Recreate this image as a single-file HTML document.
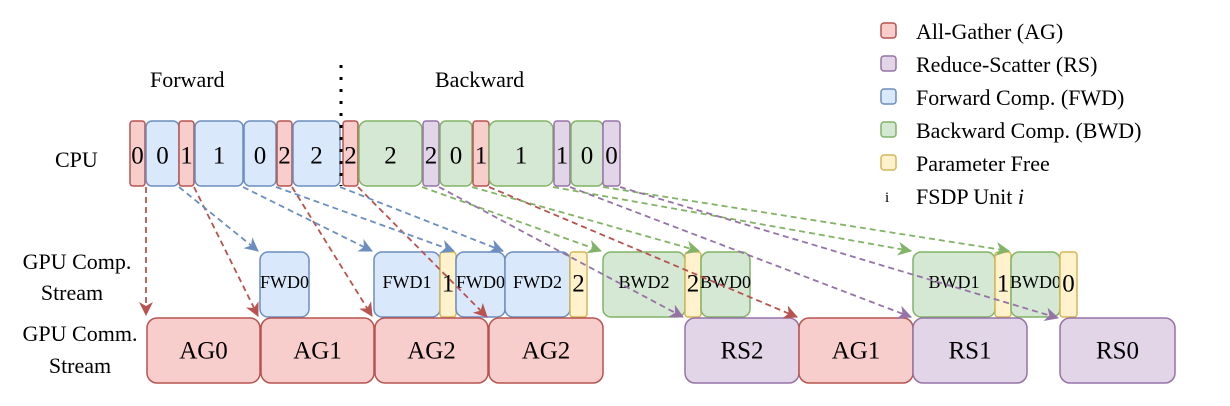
<!DOCTYPE html>
<html><head><meta charset="utf-8"><style>
html,body{margin:0;padding:0;background:#fff;}
svg{display:block;}
text{font-family:"Liberation Serif","Times New Roman",Times,serif;}
</style></head><body>
<svg width="1230" height="406" viewBox="0 0 1230 406" xmlns="http://www.w3.org/2000/svg" font-family="Liberation Serif, serif">
<defs>
<marker id="mr" markerWidth="14" markerHeight="14" refX="13" refY="7" orient="auto" markerUnits="userSpaceOnUse" viewBox="0 0 14 14"><path d="M0,0 L14,7 L0,14 L4,7 Z" fill="#b85450"/></marker>
<marker id="mb" markerWidth="14" markerHeight="14" refX="13" refY="7" orient="auto" markerUnits="userSpaceOnUse" viewBox="0 0 14 14"><path d="M0,0 L14,7 L0,14 L4,7 Z" fill="#6c8ebf"/></marker>
<marker id="mg" markerWidth="14" markerHeight="14" refX="13" refY="7" orient="auto" markerUnits="userSpaceOnUse" viewBox="0 0 14 14"><path d="M0,0 L14,7 L0,14 L4,7 Z" fill="#82b366"/></marker>
<marker id="mp" markerWidth="14" markerHeight="14" refX="13" refY="7" orient="auto" markerUnits="userSpaceOnUse" viewBox="0 0 14 14"><path d="M0,0 L14,7 L0,14 L4,7 Z" fill="#9673a6"/></marker>
</defs>
<style>
.r{fill:#f8cecc;stroke:#b85450;stroke-width:1.5}
.b{fill:#dae8fc;stroke:#6c8ebf;stroke-width:1.5}
.g{fill:#d5e8d4;stroke:#82b366;stroke-width:1.5}
.p{fill:#e1d5e7;stroke:#9673a6;stroke-width:1.5}
.y{fill:#fff2cc;stroke:#d6b656;stroke-width:1.5}
.t{font-family:"Liberation Serif",serif;font-size:25px;text-anchor:middle;dominant-baseline:central}
.s{font-family:"Liberation Serif",serif;font-size:18px;text-anchor:middle;dominant-baseline:central}
.lab{font-family:"Liberation Serif",serif;font-size:22px}
.ar{fill:none;stroke-width:1.8;stroke-dasharray:6,4}
</style>

<rect class="r" x="130" y="121" width="15" height="65" rx="3"/><text class="t" x="137.5" y="156">0</text>
<rect class="b" x="146" y="121" width="33" height="65" rx="6"/><text class="t" x="162.5" y="156">0</text>
<rect class="r" x="179" y="121" width="15" height="65" rx="3"/><text class="t" x="186.5" y="156">1</text>
<rect class="b" x="195" y="121" width="48" height="65" rx="6"/><text class="t" x="219" y="156">1</text>
<rect class="b" x="244" y="121" width="32" height="65" rx="6"/><text class="t" x="260" y="156">0</text>
<rect class="r" x="277" y="121" width="15" height="65" rx="3"/><text class="t" x="284.5" y="156">2</text>
<rect class="b" x="293" y="121" width="47" height="65" rx="6"/><text class="t" x="316.5" y="156">2</text>
<rect class="r" x="343" y="121" width="15" height="65" rx="3"/><text class="t" x="350.5" y="156">2</text>
<rect class="g" x="359" y="121" width="63" height="65" rx="8"/><text class="t" x="390.5" y="156">2</text>
<rect class="p" x="423" y="121" width="16" height="65" rx="3"/><text class="t" x="431" y="156">2</text>
<rect class="g" x="440" y="121" width="32" height="65" rx="6"/><text class="t" x="456" y="156">0</text>
<rect class="r" x="473" y="121" width="16" height="65" rx="3"/><text class="t" x="481" y="156">1</text>
<rect class="g" x="489" y="121" width="64" height="65" rx="8"/><text class="t" x="521" y="156">1</text>
<rect class="p" x="554" y="121" width="16" height="65" rx="3"/><text class="t" x="562" y="156">1</text>
<rect class="g" x="571" y="121" width="32" height="65" rx="6"/><text class="t" x="587" y="156">0</text>
<rect class="p" x="603" y="121" width="17" height="65" rx="3"/><text class="t" x="611.5" y="156">0</text>
<line x1="341" y1="65" x2="341" y2="186" stroke="#000" stroke-width="3" stroke-dasharray="3,9"/>

<rect class="b" x="260" y="252" width="49" height="65" rx="8"/><text class="s" x="284.5" y="282">FWD0</text>
<rect class="b" x="374" y="252" width="66" height="65" rx="8"/><text class="s" x="407" y="282">FWD1</text>
<rect class="y" x="440" y="252" width="16" height="65" rx="3"/><text class="t" x="448" y="284">1</text>
<rect class="b" x="456" y="252" width="49" height="65" rx="8"/><text class="s" x="480.5" y="282">FWD0</text>
<rect class="b" x="505" y="252" width="65" height="65" rx="8"/><text class="s" x="537.5" y="282">FWD2</text>
<rect class="y" x="570" y="252" width="17" height="65" rx="3"/><text class="t" x="578.5" y="284">2</text>
<rect class="g" x="603" y="252" width="82" height="65" rx="8"/><text class="s" x="644" y="282">BWD2</text>
<rect class="y" x="685" y="252" width="16" height="65" rx="3"/><text class="t" x="693" y="284">2</text>
<rect class="g" x="701" y="252" width="49" height="65" rx="8"/><text class="s" x="725.5" y="282">BWD0</text>
<rect class="g" x="913" y="252" width="82" height="65" rx="8"/><text class="s" x="954" y="282">BWD1</text>
<rect class="y" x="995" y="252" width="16" height="65" rx="3"/><text class="t" x="1003" y="284">1</text>
<rect class="g" x="1011" y="252" width="49" height="65" rx="8"/><text class="s" x="1035.5" y="282">BWD0</text>
<rect class="y" x="1060" y="252" width="17" height="65" rx="3"/><text class="t" x="1068.5" y="284">0</text>

<rect class="r" x="147" y="318" width="113" height="65" rx="10"/><text class="t" x="203.5" y="351">AG0</text>
<rect class="r" x="261" y="318" width="113" height="65" rx="10"/><text class="t" x="317.5" y="351">AG1</text>
<rect class="r" x="375" y="318" width="113" height="65" rx="10"/><text class="t" x="431.5" y="351">AG2</text>
<rect class="r" x="489" y="318" width="114" height="65" rx="10"/><text class="t" x="546" y="351">AG2</text>
<rect class="p" x="685" y="318" width="114" height="65" rx="10"/><text class="t" x="742" y="351">RS2</text>
<rect class="r" x="799" y="318" width="114" height="65" rx="10"/><text class="t" x="856" y="351">AG1</text>
<rect class="p" x="913" y="318" width="114" height="65" rx="10"/><text class="t" x="970" y="351">RS1</text>
<rect class="p" x="1060" y="318" width="115" height="65" rx="10"/><text class="t" x="1117.5" y="351">RS0</text>

<path class="ar" stroke="#b85450" d="M146,187 L146,315" marker-end="url(#mr)"/>
<path class="ar" stroke="#b85450" d="M194,187 L258,316" marker-end="url(#mr)"/>
<path class="ar" stroke="#b85450" d="M292,187 L372,316" marker-end="url(#mr)"/>
<path class="ar" stroke="#b85450" d="M358,187 L487,317" marker-end="url(#mr)"/>
<path class="ar" stroke="#b85450" d="M489,187 L797,317" marker-end="url(#mr)"/>
<path class="ar" stroke="#6c8ebf" d="M179,187 L258,251" marker-end="url(#mb)"/>
<path class="ar" stroke="#6c8ebf" d="M243,187 L372,251" marker-end="url(#mb)"/>
<path class="ar" stroke="#6c8ebf" d="M276,187 L454,251" marker-end="url(#mb)"/>
<path class="ar" stroke="#6c8ebf" d="M340,187 L503,251" marker-end="url(#mb)"/>
<path class="ar" stroke="#82b366" d="M422,187 L601,251" marker-end="url(#mg)"/>
<path class="ar" stroke="#82b366" d="M472,187 L699,251" marker-end="url(#mg)"/>
<path class="ar" stroke="#82b366" d="M553,187 L911,251" marker-end="url(#mg)"/>
<path class="ar" stroke="#82b366" d="M603,187 L1009,251" marker-end="url(#mg)"/>
<path class="ar" stroke="#9673a6" d="M439,187 L683,317" marker-end="url(#mp)"/>
<path class="ar" stroke="#9673a6" d="M570,187 L911,317" marker-end="url(#mp)"/>
<path class="ar" stroke="#9673a6" d="M620,187 L1058,318" marker-end="url(#mp)"/>

<text class="lab" x="150" y="87">Forward</text>
<text class="lab" x="435" y="87">Backward</text>
<text class="lab" x="55" y="167">CPU</text>
<text class="lab" x="77" y="269" text-anchor="middle">GPU Comp.</text>
<text class="lab" x="72" y="300" text-anchor="middle">Stream</text>
<text class="lab" x="80" y="341" text-anchor="middle">GPU Comm.</text>
<text class="lab" x="80" y="373" text-anchor="middle">Stream</text>

<rect class="r" x="881" y="23" width="15" height="15" rx="3"/><text class="lab" x="916" y="39">All-Gather (AG)</text>
<rect class="p" x="881" y="56" width="15" height="15" rx="3"/><text class="lab" x="916" y="72">Reduce-Scatter (RS)</text>
<rect class="b" x="881" y="89" width="15" height="15" rx="3"/><text class="lab" x="916" y="105">Forward Comp. (FWD)</text>
<rect class="g" x="881" y="122" width="15" height="15" rx="3"/><text class="lab" x="916" y="138">Backward Comp. (BWD)</text>
<rect class="y" x="881" y="155" width="15" height="15" rx="3"/><text class="lab" x="916" y="171">Parameter Free</text>
<text x="885" y="202" font-size="15" font-family="Liberation Serif, serif">i</text><text class="lab" x="916" y="204">FSDP Unit <tspan font-style="italic">i</tspan></text>
</svg>
</body></html>
